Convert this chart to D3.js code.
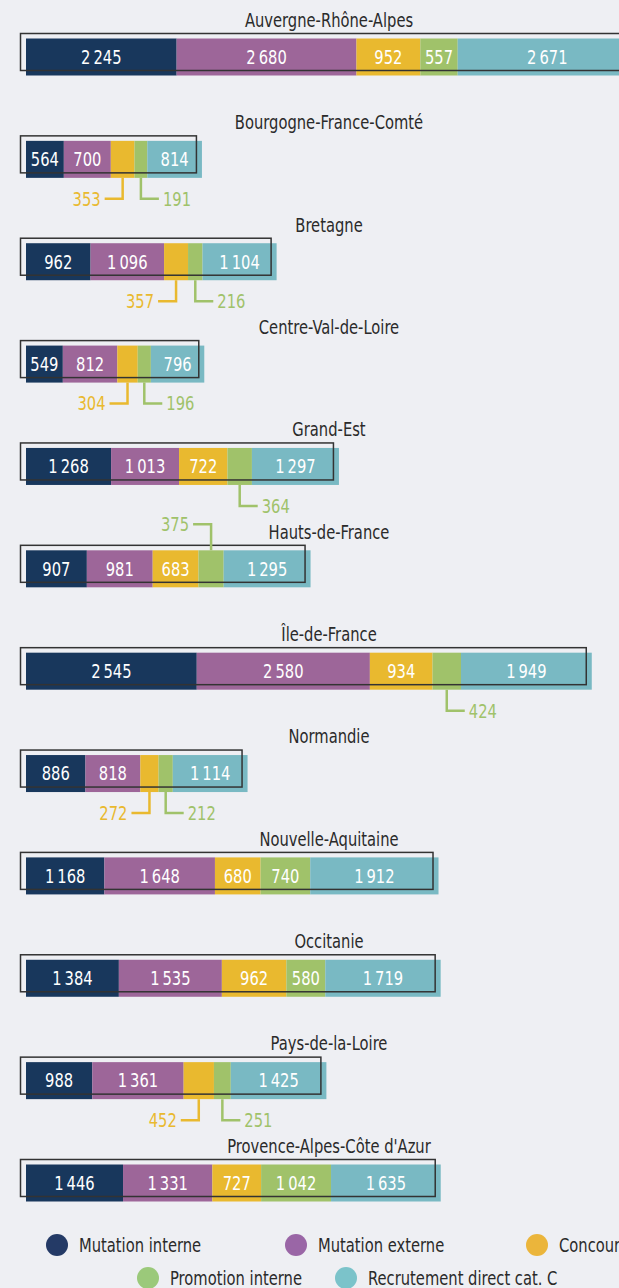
<!DOCTYPE html>
<html>
<head>
<meta charset="utf-8">
<script src="https://cdn.jsdelivr.net/npm/d3@7"></script>
<style>
  html, body { margin: 0; padding: 0; background: #eeeff3; overflow: hidden; }
  svg { display: block; }
  text { font-family: "Liberation Sans Narrow", "DejaVu Sans Condensed", sans-serif; }
</style>
</head>
<body>
<svg id="chart" width="619" height="1288"></svg>
<script>
// Regions, in display order
const regions = [
  "Auvergne-Rhône-Alpes", "Bourgogne-France-Comté", "Bretagne", "Centre-Val-de-Loire",
  "Grand-Est", "Hauts-de-France", "Île-de-France", "Normandie",
  "Nouvelle-Aquitaine", "Occitanie", "Pays-de-la-Loire", "Provence-Alpes-Côte d'Azur"
];

// One array per recruitment channel
const mutationInterne  = [2245, 564, 962, 549, 1268, 907, 2545, 886, 1168, 1384, 988, 1446];
const mutationExterne  = [2680, 700, 1096, 812, 1013, 981, 2580, 818, 1648, 1535, 1361, 1331];
const concours         = [952, 353, 357, 304, 722, 683, 934, 272, 680, 962, 452, 727];
const promotionInterne = [557, 191, 216, 196, 364, 375, 424, 212, 740, 580, 251, 1042];
const recrutementDirect= [2671, 814, 1104, 796, 1297, 1295, 1949, 1114, 1912, 1719, 1425, 1635];

const seriesNames = ["Mutation interne", "Mutation externe", "Concours", "Promotion interne", "Recrutement direct cat. C"];
const seriesValues = [mutationInterne, mutationExterne, concours, promotionInterne, recrutementDirect];
const barColors = ["#18375c", "#9d6699", "#e9b92f", "#a0c26a", "#79b9c3"];
const legendColors = ["#243a66", "#9a66a6", "#ebb53b", "#9bc97a", "#7bc3ca"];

const fmt = d3.formatLocale({ decimal: ",", thousands: "\u2009", grouping: [3], currency: ["", " €"] }).format(",d");

// Condensed look: text is squeezed horizontally around its anchor point
const FS = 19.5, SQUEEZE = 0.84;
const at = (px, py) => `translate(${px},${py}) scale(${SQUEEZE},1)`;

const svg = d3.select("#chart");

// Rows table built from the arrays
const rows = regions.map((r, i) => {
  let acc = 0;
  const segs = seriesValues.map((arr, s) => {
    const seg = { region: r, series: s, value: arr[i], x0: acc, x1: acc + arr[i] };
    acc += arr[i];
    return seg;
  });
  return { region: r, total: acc, segs };
});

const x = d3.scaleLinear().domain([0, 6200]).range([26, 442]);
const yLabel = d3.scalePoint().domain(regions).range([20, 1146]);
const barH = 37;
const barTop = r => yLabel(r) + 18.5;

// Regions whose small-value callout points upward
const upward = new Set(["Hauts-de-France"]);
const insideMin = 500;

const g = svg.selectAll("g.row").data(rows).join("g").attr("class", "row");

// Region names
g.append("text")
  .attr("transform", d => at(329, yLabel(d.region)))
  .attr("dy", "0.35em")
  .attr("text-anchor", "middle")
  .attr("font-size", FS)
  .attr("fill", "#2a2a2a")
  .text(d => d.region);

// Stacked segments
g.selectAll("rect.seg").data(d => d.segs).join("rect")
  .attr("class", "seg")
  .attr("x", d => x(d.x0))
  .attr("y", d => barTop(d.region))
  .attr("width", d => x(d.x1) - x(d.x0))
  .attr("height", barH)
  .attr("fill", d => barColors[d.series]);

// Offset outline frame
g.append("rect")
  .attr("x", d => x(0) - 5.5)
  .attr("y", d => barTop(d.region) - 5)
  .attr("width", d => x(d.total) - x(0))
  .attr("height", barH)
  .attr("fill", "none")
  .attr("stroke", "#333333")
  .attr("stroke-width", 1.5);

// Values inside segments
g.selectAll("text.val").data(d => d.segs.filter(s => s.value >= insideMin)).join("text")
  .attr("class", "val")
  .attr("transform", d => at((x(d.x0) + x(d.x1)) / 2, barTop(d.region) + barH / 2))
  .attr("dy", "0.35em")
  .attr("text-anchor", "middle")
  .attr("font-size", FS)
  .attr("fill", "#ffffff")
  .text(d => fmt(d.value));

// Callouts for narrow segments
const small = rows.flatMap(r => r.segs.filter(s => s.value < insideMin));
small.forEach(s => {
  const cx = (x(s.x0) + x(s.x1)) / 2;
  const top = barTop(s.region);
  const col = barColors[s.series];
  const up = upward.has(s.region);
  const dir = (s.series === 2 || up) ? -1 : 1;
  const yEnd = up ? top - 26 : top + barH + 21;
  const yStart = up ? top : top + barH;
  const hx = cx + dir * 18;
  svg.append("path")
    .attr("d", `M${cx},${yStart}V${yEnd}H${hx}`)
    .attr("fill", "none")
    .attr("stroke", col)
    .attr("stroke-width", 2.5);
  svg.append("text")
    .attr("transform", at(hx + dir * 4, yEnd))
    .attr("dy", "0.35em")
    .attr("text-anchor", dir < 0 ? "end" : "start")
    .attr("font-size", FS)
    .attr("fill", col)
    .text(fmt(s.value));
});

// Legend
const legendPos = [[57, 1245], [296, 1245], [537, 1245], [148, 1278], [346, 1278]];
const lg = svg.selectAll("g.legend").data(seriesNames).join("g").attr("class", "legend")
  .attr("transform", (d, i) => `translate(${legendPos[i][0]},${legendPos[i][1]})`);
lg.append("circle").attr("r", 11).attr("fill", (d, i) => legendColors[i]);
lg.append("text")
  .attr("transform", at(22, 0))
  .attr("dy", "0.35em")
  .attr("font-size", FS).attr("fill", "#2a2a2a")
  .text(d => d);
</script>
</body>
</html>
